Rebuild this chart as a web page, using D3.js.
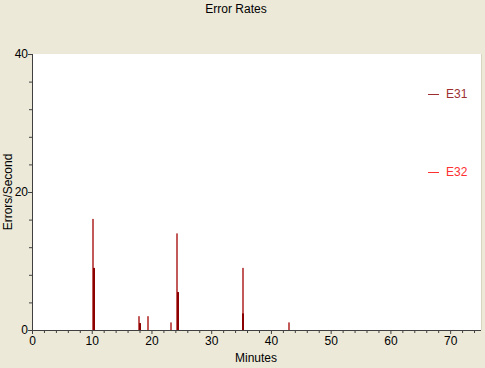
<!DOCTYPE html>
<html>
<head>
<meta charset="utf-8">
<script src="https://cdn.jsdelivr.net/npm/d3@7/dist/d3.min.js"></script>
<style>
  body { margin: 0; background: #ECE9D8; }
  text { font-family: Arial, "Liberation Sans", sans-serif; font-size: 12px; fill: #000; }
</style>
</head>
<body>
<svg id="chart" width="485" height="368"></svg>
<script>
// data
var seriesNames = ['E31', 'E32'];
var seriesColors = ['#c25a5a', '#8b0000'];
var legendColors = ['#9c3030', '#ff3030'];
var e31Minutes = [10.2, 17.9, 19.5, 23.2, 24.3, 35.4, 43.0];
var e31Values = [16.1, 2.0, 2.0, 1.1, 14.0, 9.0, 1.1];
var e32Minutes = [10.35, 18.1, 24.45, 35.3];
var e32Values = [9.0, 1.0, 5.5, 2.4];
var xMajorTicks = [0, 10, 20, 30, 40, 50, 60, 70];
var yMajorTicks = [0, 20, 40];

var svg = d3.select('#chart');
// plot box (window.top is reserved, so use other names)
var plotLeft = 32, plotRight = 480, plotTop = 54, plotBottom = 330;

var x = d3.scaleLinear().domain([0, 75]).range([plotLeft, plotRight]);
var y = d3.scaleLinear().domain([0, 40]).range([plotBottom, plotTop]);

// plot background
svg.append('rect')
  .attr('x', plotLeft + 1).attr('y', plotTop)
  .attr('width', plotRight - plotLeft).attr('height', plotBottom - plotTop)
  .attr('fill', '#fff');

// title and axis labels
svg.append('text').attr('x', 236).attr('y', 13).attr('text-anchor', 'middle').text('Error Rates');
svg.append('text').attr('x', 256).attr('y', 362).attr('text-anchor', 'middle').text('Minutes');
svg.append('text')
  .attr('transform', 'translate(12,192) rotate(-90)')
  .attr('text-anchor', 'middle')
  .text('Errors/Second');

// bars
var series = [
  { minutes: e31Minutes, values: e31Values },
  { minutes: e32Minutes, values: e32Values }
];
series.forEach(function(s, i) {
  svg.append('g').selectAll('rect')
    .data(s.values)
    .enter()
    .append('rect')
    .attr('x', function(d, j) { return Math.round(x(s.minutes[j])) - 1; })
    .attr('y', function(d) { return y(d); })
    .attr('width', 2)
    .attr('height', function(d) { return plotBottom - y(d); })
    .attr('fill', seriesColors[i]);
});

// x axis
var xAxis = d3.axisBottom(x)
  .tickValues(d3.range(0, 76, 2))
  .tickSize(3)
  .tickFormat(function(d) { return xMajorTicks.indexOf(d) >= 0 ? d : ''; });
var gx = svg.append('g').attr('transform', 'translate(0,' + plotBottom + ')').call(xAxis);
gx.select('.domain').attr('stroke', '#404040').attr('d', 'M' + plotLeft + ',0.5H' + (plotRight + 1));
gx.selectAll('.tick line').attr('stroke', '#404040')
  .attr('y2', function(d) { return xMajorTicks.indexOf(d) >= 0 ? 4 : 3; });
gx.selectAll('.tick text').attr('y', 6).style('font-size', '12px')
  .style('font-family', 'Arial, "Liberation Sans", sans-serif');

// y axis
var yAxis = d3.axisLeft(y)
  .tickValues(d3.range(0, 41, 4))
  .tickSize(3)
  .tickFormat(function(d) { return yMajorTicks.indexOf(d) >= 0 ? d : ''; });
var gy = svg.append('g').attr('transform', 'translate(' + plotLeft + ',0)').call(yAxis);
gy.select('.domain').attr('stroke', '#404040').attr('d', 'M0.5,' + plotTop + 'V' + (plotBottom + 1));
gy.selectAll('.tick line').attr('stroke', '#404040')
  .attr('x2', function(d) { return yMajorTicks.indexOf(d) >= 0 ? -4 : -3; });
gy.selectAll('.tick text').attr('x', -4).style('font-size', '12px')
  .style('font-family', 'Arial, "Liberation Sans", sans-serif');

// right edge of plot
svg.append('line')
  .attr('x1', plotRight + 1.5).attr('x2', plotRight + 1.5)
  .attr('y1', plotTop).attr('y2', plotBottom)
  .attr('stroke', '#d8d4c0');

// legend
var legendY = [94, 172];
seriesNames.forEach(function(name, i) {
  svg.append('line')
    .attr('x1', 428).attr('x2', 439)
    .attr('y1', legendY[i] + 0.5).attr('y2', legendY[i] + 0.5)
    .attr('stroke', legendColors[i]);
  svg.append('text')
    .attr('x', 446).attr('y', legendY[i] + 4)
    .style('fill', legendColors[i])
    .text(name);
});
</script>
</body>
</html>
